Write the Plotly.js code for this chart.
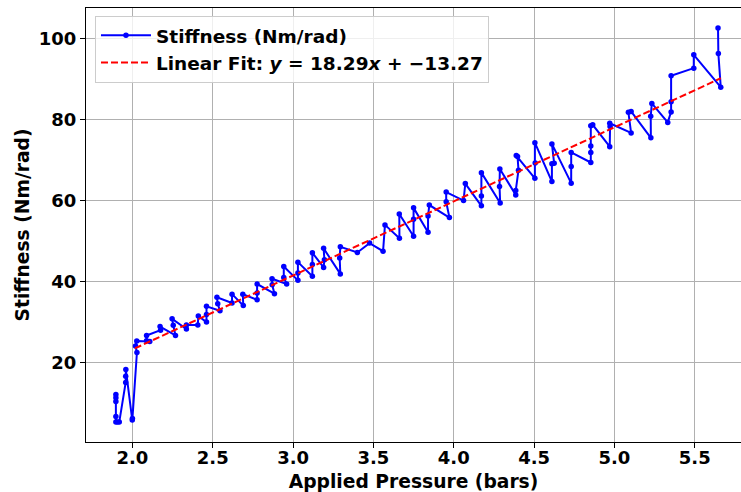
<!DOCTYPE html>
<html>
<head>
<meta charset="utf-8">
<script src="https://cdn.plot.ly/plotly-3.0.1.min.js"></script>
<style>html,body{margin:0;padding:0;background:#fff;}#chart{width:741px;height:492px;}</style>
</head>
<body>
<div id="chart"></div>
<script>
// Applied pressure (bars), in measurement order
const pressure = [
  1.897, 1.897, 1.897, 1.897, 1.897, 1.907, 1.918,
  1.958, 1.958, 1.959,
  1.999, 2.000,
  2.028, 2.019, 2.027,
  2.108, 2.088, 2.088,
  2.175, 2.172,
  2.268, 2.254, 2.247,
  2.336, 2.336,
  2.407, 2.410,
  2.461, 2.461, 2.461,
  2.545, 2.531, 2.526,
  2.620, 2.620,
  2.690, 2.687,
  2.776, 2.776, 2.776,
  2.884, 2.870, 2.869,
  2.960, 2.942, 2.942,
  3.030, 3.030, 3.030,
  3.120, 3.120, 3.120,
  3.190, 3.195, 3.190,
  3.294, 3.290, 3.294,
  3.400,
  3.476,
  3.560, 3.572,
  3.662, 3.661,
  3.750, 3.750, 3.750,
  3.840, 3.840, 3.848,
  3.973, 3.953, 3.953,
  4.061, 4.072,
  4.172, 4.172, 4.172,
  4.289, 4.285, 4.287,
  4.386, 4.386, 4.403, 4.397, 4.389,
  4.505, 4.507, 4.505,
  4.611, 4.611, 4.625, 4.611,
  4.731, 4.731, 4.731,
  4.853, 4.853, 4.853, 4.853, 4.865,
  4.971, 4.973, 4.971,
  5.104, 5.087, 5.104,
  5.227, 5.226, 5.233,
  5.332, 5.353, 5.353, 5.353,
  5.494, 5.494,
  5.662, 5.647, 5.645
];
// Stiffness (Nm/rad)
const stiffness = [
  12.2, 11.4, 10.5, 6.8, 5.4, 5.4, 5.4,
  15.2, 16.7, 18.4,
  5.9, 6.3,
  22.6, 24.2, 25.4,
  25.3, 25.5, 26.8,
  28.1, 29.0,
  26.8, 29.3, 30.9,
  28.4, 29.4,
  29.4, 31.6,
  30.1, 32.0, 34.0,
  32.9, 34.6, 36.2,
  34.8, 37.0,
  34.2, 37.0,
  35.6, 37.3, 39.5,
  37.1, 39.3, 40.8,
  39.5, 41.1, 43.8,
  40.4, 42.2, 44.9,
  41.4, 44.3, 47.2,
  43.6, 45.5, 48.3,
  42.0, 45.9, 48.7,
  47.3,
  49.6,
  47.6, 54.1,
  50.8, 56.8,
  51.3, 55.5, 58.3,
  52.3, 56.3, 59.0,
  55.9, 59.8, 62.2,
  60.1, 64.3,
  58.8, 61.2, 67.0,
  59.5, 63.6, 67.9,
  61.5, 62.6, 67.6, 71.0, 71.2,
  65.6, 69.4, 74.4,
  64.8, 69.2, 69.3, 74.1,
  64.4, 68.5, 72.0,
  69.5, 72.0, 73.6, 78.6, 78.8,
  73.4, 78.4, 79.2,
  76.8, 81.9, 82.1,
  75.6, 80.9, 84.1,
  79.4, 82.0, 84.5, 90.9,
  92.8, 96.1,
  88.1, 96.4, 102.7
];
// Linear fit line end points
const fitX = [2.015, 5.662];
const fitY = [23.6, 90.3];

const xTicks = [2.0, 2.5, 3.0, 3.5, 4.0, 4.5, 5.0, 5.5];
const yTicks = [20, 40, 60, 80, 100];

const FONT = 'DejaVu Sans';

const traces = [
  {
    x: pressure, y: stiffness, type: 'scatter', mode: 'lines+markers',
    name: 'Stiffness (Nm/rad)',
    line: {color: '#0000ff', width: 2},
    marker: {color: '#0000ff', size: 5.5}
  },
  {
    x: fitX, y: fitY, type: 'scatter', mode: 'lines',
    name: 'Linear Fit: <i>y</i> = 18.29<i>x</i> + \u221213.27',
    line: {color: '#ff0000', width: 2, dash: '7px,3px'}
  }
];

const layout = {
  width: 741, height: 492,
  margin: {l: 86, r: 0, t: 8, b: 50},
  paper_bgcolor: '#ffffff', plot_bgcolor: '#ffffff',
  showlegend: true,
  font: {family: FONT, color: '#000000', weight: 'bold'},
  xaxis: {
    range: [1.711, 5.788],
    tickvals: xTicks, ticktext: xTicks.map(v => v.toFixed(1)),
    tickfont: {family: FONT, size: 18, weight: 'bold', color: '#000'},
    ticks: 'outside', ticklen: 5, tickwidth: 1, tickcolor: '#000',
    ticklabelstandoff: -6,
    showgrid: true, gridcolor: '#b0b0b0', gridwidth: 1,
    showline: true, linecolor: '#000', linewidth: 1, mirror: true,
    zeroline: false, automargin: false,
    title: {text: 'Applied Pressure (bars)', font: {family: FONT, size: 18.7, weight: 'bold', color: '#000'}, standoff: 10}
  },
  yaxis: {
    range: [0.49, 107.65],
    tickvals: yTicks, ticktext: yTicks.map(String),
    tickfont: {family: FONT, size: 18, weight: 'bold', color: '#000'},
    ticks: 'outside', ticklen: 5, tickwidth: 1, tickcolor: '#000',
    showgrid: true, gridcolor: '#b0b0b0', gridwidth: 1,
    showline: true, linecolor: '#000', linewidth: 1,
    zeroline: false, automargin: false,
    title: {text: 'Stiffness (Nm/rad)', font: {family: FONT, size: 18.7, weight: 'bold', color: '#000'}, standoff: 4}
  },
  legend: {
    x: 0.0137, y: 0.982, xanchor: 'left', yanchor: 'top',
    bgcolor: 'rgba(255,255,255,0.8)', bordercolor: '#cccccc', borderwidth: 1,
    font: {family: FONT, size: 18.5, weight: 'bold', color: '#000'},
    itemwidth: 50, tracegroupgap: 0
  }
};

Plotly.newPlot('chart', traces, layout, {displayModeBar: false, staticPlot: true});
</script>
</body>
</html>
